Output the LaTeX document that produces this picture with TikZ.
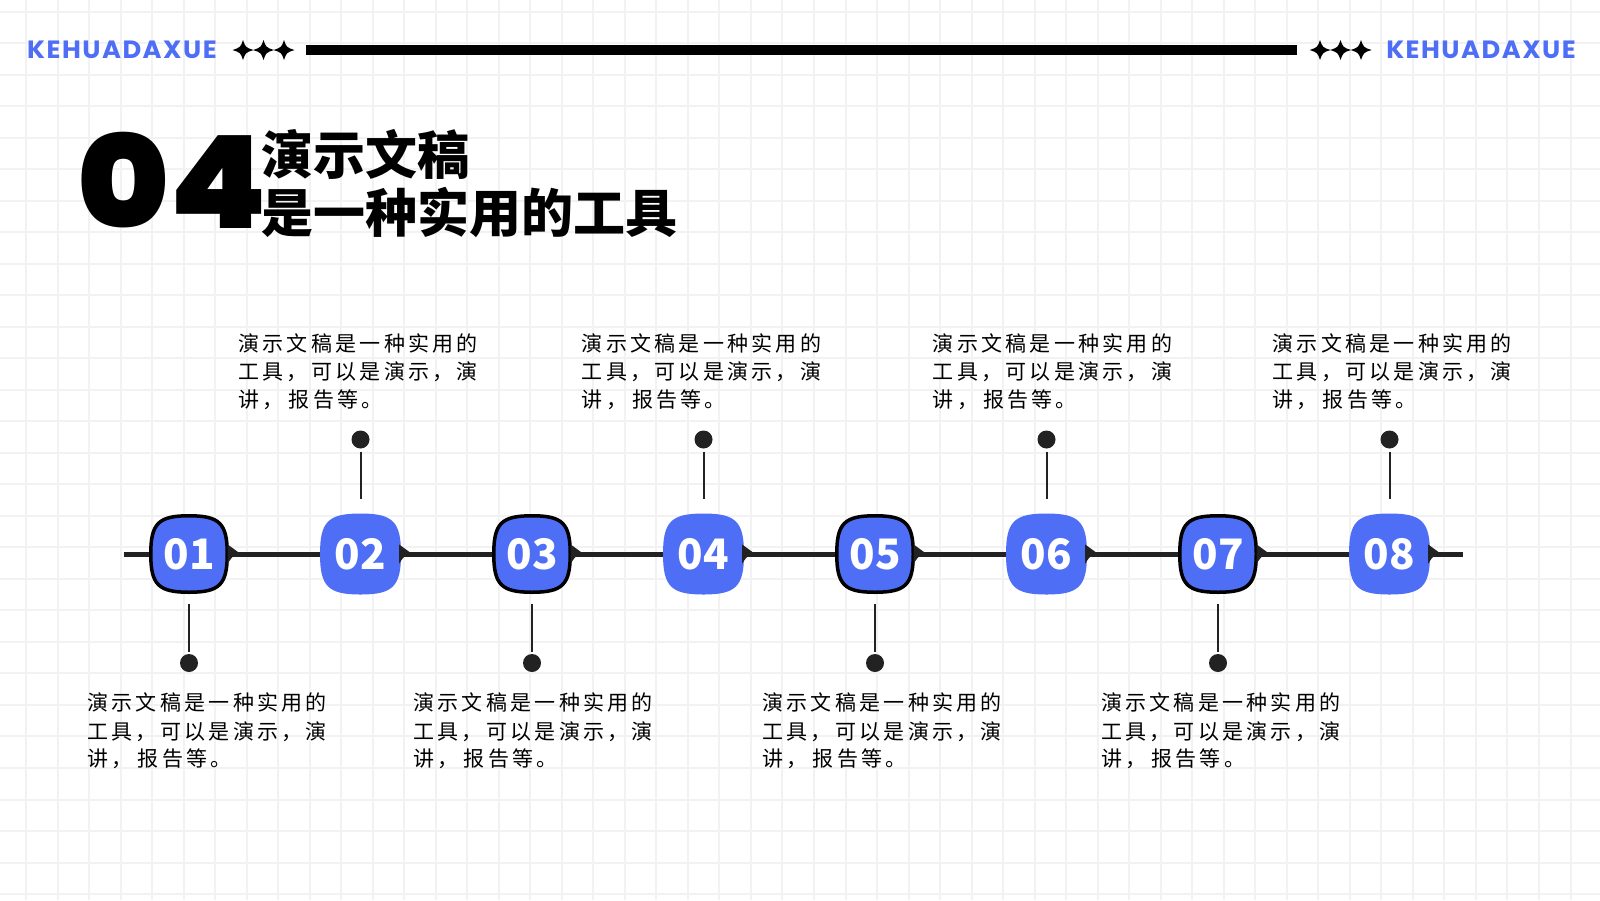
\documentclass[tikz,border=0pt]{standalone}
\usepackage{fontspec}
\newfontfamily\cjk{Noto Sans CJK SC}
\newfontfamily\cjkbody{Noto Sans CJK SC}[LetterSpace=15.5]
\IfFontExistsTF{Noto Sans CJK SC Black}{\newfontfamily\cjkblack{Noto Sans CJK SC Black}}{\newfontfamily\cjkblack{Noto Sans CJK SC Bold}}
\IfFontExistsTF{Poppins Black}{\newfontfamily\popblack{Poppins Black}[FakeStretch=1.08]}{%
  \IfFontExistsTF{Poppins ExtraBold}{\newfontfamily\popblack{Poppins ExtraBold}[FakeStretch=1.08]}{\newfontfamily\popblack{Poppins Bold}[FakeStretch=1.08]}}
\IfFontExistsTF{Poppins Bold}{\newfontfamily\popbold{Poppins Bold}[LetterSpace=6,FakeStretch=1.03]}{\newfontfamily\popbold{Poppins}[FakeBold=2,LetterSpace=6,FakeStretch=1.03]}
\definecolor{kblue}{HTML}{4E6EF6}
\definecolor{gridc}{HTML}{F2F2F2}
\definecolor{linec}{HTML}{222222}
\newcommand\sqshape[4]{% cx cy half style
  \path[#4] (#1+#3,#2) .. controls (#1+#3,#2+0.8*#3) and (#1+0.8*#3,#2+#3) .. (#1,#2+#3)
   .. controls (#1-0.8*#3,#2+#3) and (#1-#3,#2+0.8*#3) .. (#1-#3,#2)
   .. controls (#1-#3,#2-0.8*#3) and (#1-0.8*#3,#2-#3) .. (#1,#2-#3)
   .. controls (#1+0.8*#3,#2-#3) and (#1+#3,#2-0.8*#3) .. (#1+#3,#2) -- cycle;}
\newcommand\fourstar[2]{%
  \fill[black] (#1,#2-10) .. controls (#1+2.6,#2-2.6) .. (#1+10.5,#2)
   .. controls (#1+2.6,#2+2.6) .. (#1,#2+10)
   .. controls (#1-2.6,#2+2.6) .. (#1-10.5,#2)
   .. controls (#1-2.6,#2-2.6) .. (#1,#2-10) -- cycle;}
\begin{document}
\begin{tikzpicture}[x=1pt,y=-1pt,
  gridline/.style={draw=gridc,line width=2pt},
  hdr/.style={font=\popbold\fontsize{25}{25}\selectfont,text=kblue,inner sep=0pt},
  ttl/.style={font=\cjkblack\fontsize{52}{52}\selectfont,text=black,inner sep=0pt},
  num/.style={font=\cjk\bfseries\fontsize{42}{42}\selectfont,text=white,minimum width=80pt,minimum height=80pt,inner sep=0pt},
  oddsq/.style={fill=kblue,draw=black,line width=3.5pt},
  evensq/.style={fill=kblue},
  mainline/.style={draw=linec,line width=5pt},
  tick/.style={draw=linec,line width=2pt},
  dotnode/.style={circle,fill=linec,minimum size=18pt,inner sep=0pt},
  desc/.style={font=\cjkbody\fontsize{21}{28}\selectfont,text=black,align=left,inner sep=0pt,anchor=north west}
]
\useasboundingbox (0,0) rectangle (1600,900);
\fill[white] (0,0) rectangle (1600,900);
\foreach \i in {0,...,49} \draw[gridline] (26+\i*31.52,0) -- (26+\i*31.52,900);
\foreach \j in {0,...,28} \draw[gridline] (0,11.5+\j*31.52) -- (1600,11.5+\j*31.52);
% header
\node[hdr,anchor=base west] (hl) at (27,58.3) {KEHUADAXUE};
\node[hdr,anchor=base east] (hr) at (1576,58.3) {KEHUADAXUE};
\fourstar{243}{50}\fourstar{263.5}{50}\fourstar{284}{50}
\fourstar{1320}{50}\fourstar{1340.5}{50}\fourstar{1361}{50}
\fill[black] (306,44.5) rectangle (1297,54.5);
% title
\node[anchor=base west,font=\popblack\fontsize{129}{129}\selectfont,inner sep=0pt] (big) at (77,228.5) {04};
\node[ttl,anchor=base west] (ti1) at (261,174.5) {演示文稿};
\node[ttl,anchor=base west] (ti2) at (261,232) {是一种实用的工具};
% nodes
\coordinate (L) at (124,554);
\coordinate (R) at (1463,554);
\sqshape{189}{554}{38.25}{oddsq}
\sqshape{360.5}{554}{40.5}{evensq}
\sqshape{532}{554}{38.25}{oddsq}
\sqshape{703.5}{554}{40.5}{evensq}
\sqshape{875}{554}{38.25}{oddsq}
\sqshape{1046.5}{554}{40.5}{evensq}
\sqshape{1218}{554}{38.25}{oddsq}
\sqshape{1389.5}{554}{40.5}{evensq}
\node[num] (n1) at (189,554) {01};
\node[num] (n2) at (360.5,554) {02};
\node[num] (n3) at (532,554) {03};
\node[num] (n4) at (703.5,554) {04};
\node[num] (n5) at (875,554) {05};
\node[num] (n6) at (1046.5,554) {06};
\node[num] (n7) at (1218,554) {07};
\node[num] (n8) at (1389.5,554) {08};
\draw[mainline] (L) -- (n1.west);
\foreach \a/\b in {n1/n2,n2/n3,n3/n4,n4/n5,n5/n6,n6/n7,n7/n8} \draw[mainline] (\a.east) -- (\b.west);
\draw[mainline] (n8.east) -- (R);
\foreach \a in {n1,n2,n3,n4,n5,n6,n7,n8}
  \fill[linec] (\a.east) ++(-1.5,-9.5) .. controls ++(6,4.5) .. ++(13,9.5) .. controls ++(-7,0.5) .. ++(-13,9.5) -- cycle;
% dots and ticks
\foreach \a/\x in {n2/360.5,n4/703.5,n6/1046.5,n8/1389.5}{
  \node[dotnode] (d\a) at (\x,439.5) {};
  \draw[tick,shorten <=3pt,shorten >=15pt] (d\a) -- (\a);
}
\foreach \a/\x in {n1/189,n3/532,n5/875,n7/1218}{
  \node[dotnode] (d\a) at (\x,663) {};
  \draw[tick,shorten <=10pt,shorten >=2pt] (\a) -- (d\a);
}
% descriptions
\node[desc] (t2) at (238.3,334) {演示文稿是一种实用的\\工具，可以是演示，演\\讲，\hspace{5pt}报告等。};
\node[desc] (t4) at (581.6,334) {演示文稿是一种实用的\\工具，可以是演示，演\\讲，\hspace{5pt}报告等。};
\node[desc] (t6) at (932.7,334) {演示文稿是一种实用的\\工具，可以是演示，演\\讲，\hspace{5pt}报告等。};
\node[desc] (t8) at (1272.5,334) {演示文稿是一种实用的\\工具，可以是演示，演\\讲，\hspace{5pt}报告等。};
\node[desc] (t1) at (87.3,693) {演示文稿是一种实用的\\工具，可以是演示，演\\讲，\hspace{5pt}报告等。};
\node[desc] (t3) at (413.3,693) {演示文稿是一种实用的\\工具，可以是演示，演\\讲，\hspace{5pt}报告等。};
\node[desc] (t5) at (762.3,693) {演示文稿是一种实用的\\工具，可以是演示，演\\讲，\hspace{5pt}报告等。};
\node[desc] (t7) at (1101,693) {演示文稿是一种实用的\\工具，可以是演示，演\\讲，\hspace{5pt}报告等。};
\end{tikzpicture}
\end{document}
